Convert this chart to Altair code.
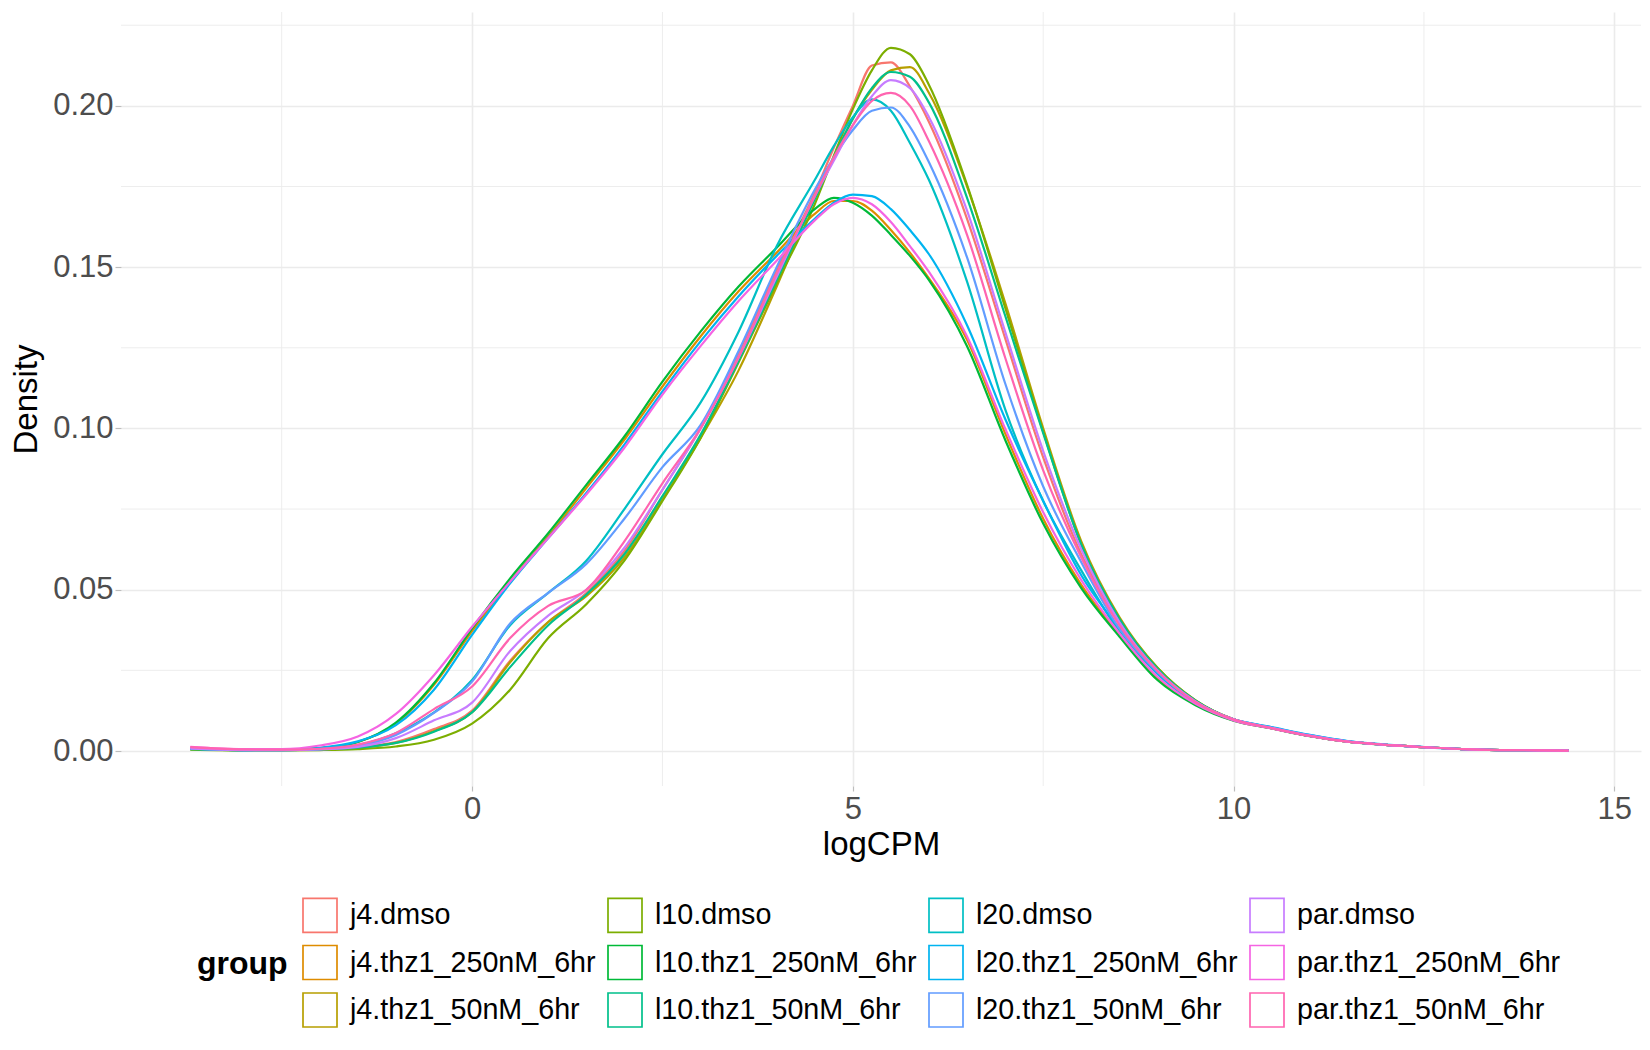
import altair as alt
import pandas as pd

# common logCPM grid
X = [-3.7, -3.0, -2.5, -2.0, -1.5, -1.0, -0.5, 0.0, 0.5, 1.0, 1.5, 2.0, 2.5, 3.0, 3.5, 4.0,
     4.5, 4.75, 5.0, 5.25, 5.5, 5.75, 6.0, 6.5, 7.0, 7.5, 8.0, 8.5, 9.0, 9.5, 10.0,
     10.5, 11.0, 11.5, 12.0, 12.5, 13.0, 13.5, 14.0, 14.4]

groups = ["j4.dmso", "j4.thz1_250nM_6hr", "j4.thz1_50nM_6hr",
          "l10.dmso", "l10.thz1_250nM_6hr", "l10.thz1_50nM_6hr",
          "l20.dmso", "l20.thz1_250nM_6hr", "l20.thz1_50nM_6hr",
          "par.dmso", "par.thz1_250nM_6hr", "par.thz1_50nM_6hr"]
colors = ["#F8766D", "#DE8C00", "#B79F00", "#7CAE00", "#00BA38", "#00C08B",
          "#00BFC4", "#00B4F0", "#619CFF", "#C77CFF", "#F564E3", "#FF64B0"]

j4_dmso = [0.0008, 0.0004, 0.0004, 0.0006, 0.0012, 0.0028, 0.0068, 0.0125, 0.0280, 0.0400, 0.0490, 0.0620, 0.0810, 0.1000, 0.1230, 0.1490,
           0.1730, 0.1870, 0.2000, 0.2125, 0.2135, 0.2060, 0.1950, 0.1650, 0.1280, 0.0910, 0.0610, 0.0400, 0.0250, 0.0155, 0.0098,
           0.0071, 0.0047, 0.0029, 0.0019, 0.0012, 0.0006, 0.0003, 0.0002, 0.0001]
j4_thz1_250 = [0.0009, 0.0004, 0.0004, 0.0009, 0.0028, 0.0085, 0.0205, 0.0372, 0.0525, 0.0665, 0.0815, 0.0965, 0.1130, 0.1285, 0.1425, 0.1545,
               0.1665, 0.1705, 0.1705, 0.1675, 0.1615, 0.1545, 0.1465, 0.1275, 0.0985, 0.0720, 0.0515, 0.0360, 0.0225, 0.0145, 0.0095,
               0.0070, 0.0047, 0.0029, 0.0019, 0.0012, 0.0006, 0.0003, 0.0002, 0.0001]
j4_thz1_50 = [0.0006, 0.0003, 0.0003, 0.0005, 0.0010, 0.0025, 0.0062, 0.0120, 0.0275, 0.0400, 0.0480, 0.0600, 0.0780, 0.0970, 0.1180, 0.1440,
              0.1715, 0.1840, 0.1960, 0.2050, 0.2110, 0.2120, 0.2040, 0.1750, 0.1390, 0.1000, 0.0650, 0.0415, 0.0258, 0.0157, 0.0098,
              0.0071, 0.0047, 0.0029, 0.0019, 0.0012, 0.0006, 0.0003, 0.0002, 0.0001]
l10_dmso = [0.0004, 0.0002, 0.0002, 0.0003, 0.0006, 0.0014, 0.0035, 0.0085, 0.0190, 0.0350, 0.0455, 0.0590, 0.0775, 0.0970, 0.1205, 0.1450,
            0.1695, 0.1845, 0.1990, 0.2110, 0.2180, 0.2160, 0.2065, 0.1755, 0.1375, 0.0990, 0.0640, 0.0410, 0.0258, 0.0157, 0.0098,
            0.0071, 0.0047, 0.0029, 0.0019, 0.0012, 0.0006, 0.0003, 0.0002, 0.0001]
l10_thz1_250 = [0.0008, 0.0003, 0.0004, 0.0009, 0.0028, 0.0088, 0.0210, 0.0380, 0.0535, 0.0675, 0.0825, 0.0975, 0.1145, 0.1300, 0.1440, 0.1560,
                0.1680, 0.1715, 0.1700, 0.1660, 0.1600, 0.1535, 0.1460, 0.1255, 0.0965, 0.0705, 0.0505, 0.0355, 0.0220, 0.0142, 0.0094,
                0.0070, 0.0046, 0.0029, 0.0019, 0.0012, 0.0006, 0.0003, 0.0002, 0.0001]
l10_thz1_50 = [0.0006, 0.0003, 0.0003, 0.0005, 0.0010, 0.0025, 0.0060, 0.0120, 0.0260, 0.0390, 0.0485, 0.0610, 0.0790, 0.0980, 0.1210, 0.1460,
               0.1710, 0.1840, 0.1960, 0.2055, 0.2105, 0.2090, 0.2010, 0.1715, 0.1350, 0.0985, 0.0640, 0.0410, 0.0255, 0.0156, 0.0098,
               0.0071, 0.0047, 0.0029, 0.0019, 0.0012, 0.0006, 0.0003, 0.0002, 0.0001]
l20_dmso = [0.0008, 0.0003, 0.0003, 0.0006, 0.0018, 0.0055, 0.0120, 0.0220, 0.0390, 0.0490, 0.0590, 0.0750, 0.0920, 0.1080, 0.1300, 0.1565,
            0.1770, 0.1875, 0.1965, 0.2020, 0.1985, 0.1885, 0.1770, 0.1455, 0.1060, 0.0775, 0.0560, 0.0370, 0.0240, 0.0150, 0.0098,
            0.0073, 0.0049, 0.0030, 0.0019, 0.0012, 0.0006, 0.0003, 0.0002, 0.0001]
l20_thz1_250 = [0.0008, 0.0003, 0.0004, 0.0010, 0.0030, 0.0080, 0.0190, 0.0360, 0.0520, 0.0660, 0.0800, 0.0950, 0.1115, 0.1270, 0.1410, 0.1535,
                0.1650, 0.1700, 0.1725, 0.1720, 0.1680, 0.1615, 0.1540, 0.1320, 0.1030, 0.0775, 0.0545, 0.0380, 0.0240, 0.0152, 0.0098,
                0.0074, 0.0050, 0.0031, 0.0020, 0.0012, 0.0006, 0.0003, 0.0002, 0.0001]
l20_thz1_50 = [0.0007, 0.0003, 0.0003, 0.0006, 0.0016, 0.0050, 0.0118, 0.0215, 0.0395, 0.0490, 0.0580, 0.0720, 0.0880, 0.1010, 0.1240, 0.1500,
               0.1740, 0.1840, 0.1925, 0.1985, 0.1995, 0.1935, 0.1825, 0.1530, 0.1140, 0.0820, 0.0585, 0.0380, 0.0245, 0.0152, 0.0098,
               0.0073, 0.0049, 0.0030, 0.0019, 0.0012, 0.0006, 0.0003, 0.0002, 0.0001]
par_dmso = [0.0008, 0.0003, 0.0003, 0.0005, 0.0013, 0.0040, 0.0095, 0.0150, 0.0310, 0.0420, 0.0500, 0.0630, 0.0810, 0.1000, 0.1220, 0.1470,
            0.1720, 0.1830, 0.1940, 0.2030, 0.2080, 0.2055, 0.1965, 0.1675, 0.1300, 0.0930, 0.0625, 0.0400, 0.0250, 0.0154, 0.0098,
            0.0071, 0.0047, 0.0029, 0.0019, 0.0012, 0.0006, 0.0003, 0.0002, 0.0001]
par_thz1_250 = [0.0013, 0.0006, 0.0006, 0.0017, 0.0045, 0.0115, 0.0235, 0.0385, 0.0525, 0.0660, 0.0795, 0.0940, 0.1105, 0.1255, 0.1395, 0.1520,
                0.1645, 0.1695, 0.1715, 0.1695, 0.1640, 0.1565, 0.1485, 0.1285, 0.1000, 0.0740, 0.0530, 0.0365, 0.0230, 0.0146, 0.0095,
                0.0070, 0.0047, 0.0029, 0.0019, 0.0012, 0.0006, 0.0003, 0.0002, 0.0001]
par_thz1_50 = [0.0012, 0.0005, 0.0004, 0.0007, 0.0020, 0.0056, 0.0130, 0.0200, 0.0350, 0.0450, 0.0500, 0.0650, 0.0830, 0.1000, 0.1220, 0.1480,
               0.1720, 0.1840, 0.1940, 0.2015, 0.2040, 0.2000, 0.1890, 0.1600, 0.1220, 0.0870, 0.0600, 0.0390, 0.0248, 0.0152, 0.0098,
               0.0071, 0.0047, 0.0029, 0.0019, 0.0012, 0.0006, 0.0003, 0.0002, 0.0001]

series = [j4_dmso, j4_thz1_250, j4_thz1_50, l10_dmso, l10_thz1_250, l10_thz1_50,
          l20_dmso, l20_thz1_250, l20_thz1_50, par_dmso, par_thz1_250, par_thz1_50]

x_ticks = [0, 5, 10, 15]
y_ticks = [0.0, 0.05, 0.10, 0.15, 0.20]
x_minor = [-2.5, 2.5, 7.5, 12.5]
y_minor = [0.025, 0.075, 0.125, 0.175, 0.225]

rows = []
for g, vals in zip(groups, series):
    for xv, yv in zip(X, vals):
        rows.append({"group": g, "logCPM": xv, "density": yv})
df = pd.DataFrame(rows)

FONT = "Liberation Sans"
GRID = "#EBEBEB"

x_scale = alt.Scale(domain=[-4.61, 15.35], nice=False, zero=False)
y_scale = alt.Scale(domain=[-0.01085, 0.2291], nice=False, zero=False)

x_axis = alt.Axis(values=x_ticks, title="logCPM", grid=True, gridColor=GRID, gridWidth=1.6,
                  domain=False, ticks=True, tickColor="#BDBDBD", tickSize=5, tickWidth=1.2,
                  labelFont=FONT, labelFontSize=31, labelColor="#4D4D4D", labelPadding=3,
                  labelFlush=False, labelOverlap=False,
                  titleFont=FONT, titleFontSize=33, titleFontWeight="normal", titleColor="#000000",
                  titlePadding=4)
y_axis = alt.Axis(values=y_ticks, format=".2f", title="Density", grid=True, gridColor=GRID, gridWidth=1.6,
                  domain=False, ticks=True, tickColor="#BDBDBD", tickSize=6, tickWidth=1.2,
                  labelFont=FONT, labelFontSize=31, labelColor="#4D4D4D", labelPadding=2,
                  labelFlush=False, labelOverlap=False,
                  titleFont=FONT, titleFontSize=33, titleFontWeight="normal", titleColor="#000000",
                  titlePadding=9)

vgrid = alt.Chart(pd.DataFrame({"logCPM": x_minor})).mark_rule(color=GRID, strokeWidth=0.9).encode(
    x=alt.X("logCPM:Q", scale=x_scale, axis=x_axis))
hgrid = alt.Chart(pd.DataFrame({"density": y_minor})).mark_rule(color=GRID, strokeWidth=0.9).encode(
    y=alt.Y("density:Q", scale=y_scale, axis=y_axis))

lines = alt.Chart(df).mark_line(strokeWidth=2.2, interpolate="monotone").encode(
    x=alt.X("logCPM:Q", scale=x_scale, axis=x_axis),
    y=alt.Y("density:Q", scale=y_scale, axis=y_axis),
    color=alt.Color("group:N", scale=alt.Scale(domain=groups, range=colors),
                    legend=alt.Legend(title="group", orient="none", legendX=76, legendY=885,
                                      columns=4, symbolType="square", symbolSize=1156,
                                      symbolStrokeWidth=1.7, symbolFillColor="white",
                                      labelFont=FONT, labelFontSize=28.7, labelColor="#000000",
                                      labelOffset=12, labelLimit=400,
                                      titleFont=FONT, titleFontSize=32, titleFontWeight="bold",
                                      titleColor="#000000", titleOrient="left", titleAnchor="middle",
                                      titleBaseline="middle", titlePadding=14,
                                      rowPadding=5.5, columnPadding=8, padding=0)),
)

chart = alt.layer(vgrid, hgrid, lines).properties(
    width=1520, height=774,
    autosize=alt.AutoSizeParams(type="none"),
    padding={"left": 113, "top": 4, "right": 1, "bottom": 256},
    background="white",
).configure_view(stroke=None)

chart.save("out.html", embed_options={"renderer": "svg", "actions": False})
